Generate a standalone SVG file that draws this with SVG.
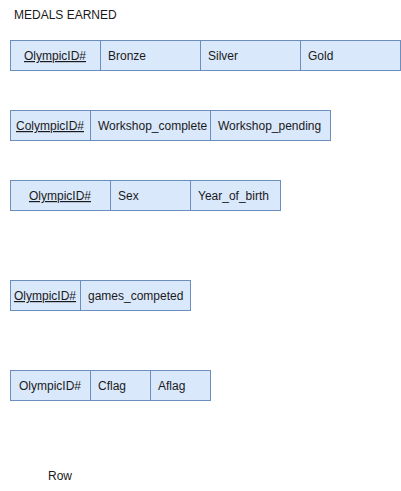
<svg xmlns="http://www.w3.org/2000/svg" width="401" height="491" viewBox="0 0 401 491">
<style>
.c{fill:#dae8fc;stroke:#6c8ebf;stroke-width:1}
.t{font-family:"Liberation Sans",Arial,sans-serif;font-size:12px;fill:#1a1a1a}
.m{text-anchor:middle}
.u{text-decoration:underline}
</style>
<rect width="401" height="491" fill="#ffffff"/>
<text class="t" x="14" y="19">MEDALS EARNED</text>
<g id="medals">
<rect class="c" x="10.5" y="40.5" width="90" height="30"/>
<rect class="c" x="100.5" y="40.5" width="100" height="30"/>
<rect class="c" x="200.5" y="40.5" width="100" height="30"/>
<rect class="c" x="300.5" y="40.5" width="100" height="30"/>
<text class="t m u" x="55" y="60">OlympicID#</text>
<text class="t" x="108" y="60">Bronze</text>
<text class="t" x="208" y="60">Silver</text>
<text class="t" x="308" y="60">Gold</text>
</g>
<g id="workshop">
<rect class="c" x="10.5" y="110.5" width="80" height="30"/>
<rect class="c" x="90.5" y="110.5" width="120" height="30"/>
<rect class="c" x="210.5" y="110.5" width="120" height="30"/>
<text class="t m u" x="50" y="130">ColympicID#</text>
<text class="t" x="98" y="130">Workshop_complete</text>
<text class="t" x="218" y="130">Workshop_pending</text>
</g>
<g id="athlete">
<rect class="c" x="10.5" y="180.5" width="100" height="30"/>
<rect class="c" x="110.5" y="180.5" width="80" height="30"/>
<rect class="c" x="190.5" y="180.5" width="90" height="30"/>
<text class="t m u" x="60" y="200">OlympicID#</text>
<text class="t" x="118" y="200">Sex</text>
<text class="t" x="198" y="200">Year_of_birth</text>
</g>
<g id="games">
<rect class="c" x="10.5" y="280.5" width="70" height="30"/>
<rect class="c" x="80.5" y="280.5" width="110" height="30"/>
<text class="t m u" x="45" y="300">OlympicID#</text>
<text class="t" x="88" y="300">games_competed</text>
</g>
<g id="flags">
<rect class="c" x="10.5" y="370.5" width="80" height="30"/>
<rect class="c" x="90.5" y="370.5" width="60" height="30"/>
<rect class="c" x="150.5" y="370.5" width="60" height="30"/>
<text class="t m" x="50" y="390">OlympicID#</text>
<text class="t" x="98" y="390">Cflag</text>
<text class="t" x="158" y="390">Aflag</text>
</g>
<g id="connectors"></g>
<text class="t" x="48" y="480">Row</text>
</svg>
